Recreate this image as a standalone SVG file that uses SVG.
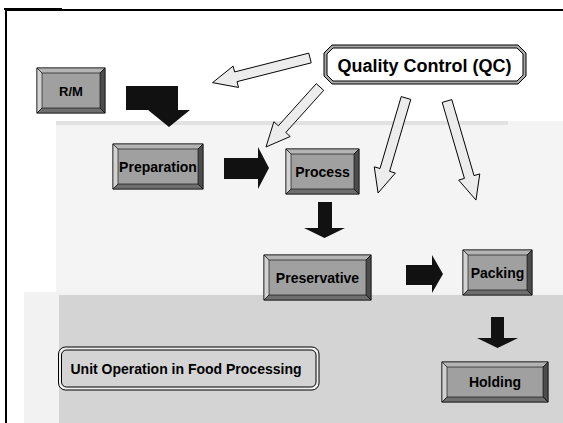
<svg xmlns="http://www.w3.org/2000/svg" width="563" height="423" viewBox="0 0 563 423">
<style>
.t{font-family:"Liberation Sans",Arial,sans-serif;font-weight:bold;font-size:14px;fill:#000;text-anchor:middle}
.face{fill:#a0a0a0;stroke:#000;stroke-width:0.8}
.bt{fill:#b4b4b4;stroke:#000;stroke-width:0.6}
.bl{fill:#d2d2d2;stroke:#000;stroke-width:0.6}
.br{fill:#4c4c4c;stroke:#000;stroke-width:0.6}
.bb{fill:#6e6e6e;stroke:#000;stroke-width:0.6}
.blk{fill:#111}
.wa{fill:#ececec;stroke:#000;stroke-width:0.9}
</style>
<rect width="563" height="423" fill="#fff"/>
<g id="background">
<rect x="56" y="121" width="507" height="175" fill="#f4f4f4"/>
<rect x="56" y="121" width="452" height="4" fill="#e2e2e2"/>
<rect x="24" y="292" width="539" height="131" fill="#f2f2f2"/>
<rect x="59" y="295" width="504" height="128" fill="#d4d4d4"/>
<rect x="6" y="10" width="600" height="450" fill="none" stroke="#000" stroke-width="2"/>
<rect x="4" y="8" width="58" height="2" fill="#000"/>
</g>
<g id="connectors">
<polygon class="blk" points="126,86 178,86 178,110 190,110 169,127 148,110 126,110"/>
<polygon class="blk" points="224,158 258,158 258,147 269,168 258,189 258,179 224,179"/>
<polygon class="blk" points="318,202 332,202 332,228 345,228 324.5,238 304,228 318,228"/>
<polygon class="blk" points="406,265 432,265 432,255 443,274 432,293 432,285 406,285"/>
<polygon class="blk" points="491,317 504,317 504,338 518,338 497.5,348 477,338 491,338"/>
<polygon class="wa" transform="translate(310,58) rotate(165.8)" points="0,-5 76.5,-5 76.5,-11 100.5,0 76.5,11 76.5,5 0,5"/>
<polygon class="wa" transform="translate(320,87) rotate(132)" points="0,-5 56.7,-5 56.7,-11 80.7,0 56.7,11 56.7,5 0,5"/>
<polygon class="wa" transform="translate(406,98) rotate(106.4)" points="0,-5 75,-5 75,-11 99,0 75,11 75,5 0,5"/>
<polygon class="wa" transform="translate(447,101) rotate(73.7)" points="0,-5 79.2,-5 79.2,-11 103.2,0 79.2,11 79.2,5 0,5"/>
</g>
<g id="qc">
<polygon points="332,45 518,45 526,53 526,76 518,84 332,84 324,76 324,53" fill="#a8a8a8" stroke="#000" stroke-width="1"/>
<polygon points="333,48 517,48 523,54 523,75 517,81 333,81 327,75 327,54" fill="#fff" stroke="#000" stroke-width="1"/>
<text class="t" x="424.5" y="72" style="font-size:18px">Quality Control (QC)</text>
</g>
<g id="rm">
<rect class="face" x="37" y="68" width="68" height="45"/>
<polygon class="bt" points="37,68 105,68 100,73 42,73"/>
<polygon class="bl" points="37,68 42,73 42,108 37,113"/>
<polygon class="br" points="105,68 105,113 100,108 100,73"/>
<polygon class="bb" points="37,113 42,108 100,108 105,113"/>
<text class="t" x="71" y="96" style="font-size:13px">R/M</text>
</g>
<g id="preparation">
<rect class="face" x="113" y="144" width="90" height="45"/>
<polygon class="bt" points="113,144 203,144 198,149 118,149"/>
<polygon class="bl" points="113,144 118,149 118,184 113,189"/>
<polygon class="br" points="203,144 203,189 198,184 198,149"/>
<polygon class="bb" points="113,189 118,184 198,184 203,189"/>
<text class="t" x="158" y="172">Preparation</text>
</g>
<g id="process">
<rect class="face" x="286" y="149" width="73" height="45"/>
<polygon class="bt" points="286,149 359,149 354,154 291,154"/>
<polygon class="bl" points="286,149 291,154 291,189 286,194"/>
<polygon class="br" points="359,149 359,194 354,189 354,154"/>
<polygon class="bb" points="286,194 291,189 354,189 359,194"/>
<text class="t" x="322.5" y="177">Process</text>
</g>
<g id="preservative">
<rect class="face" x="264" y="255" width="107" height="45"/>
<polygon class="bt" points="264,255 371,255 366,260 269,260"/>
<polygon class="bl" points="264,255 269,260 269,295 264,300"/>
<polygon class="br" points="371,255 371,300 366,295 366,260"/>
<polygon class="bb" points="264,300 269,295 366,295 371,300"/>
<text class="t" x="317.5" y="283">Preservative</text>
</g>
<g id="packing">
<rect class="face" x="463" y="250" width="69" height="45"/>
<polygon class="bt" points="463,250 532,250 527,255 468,255"/>
<polygon class="bl" points="463,250 468,255 468,290 463,295"/>
<polygon class="br" points="532,250 532,295 527,290 527,255"/>
<polygon class="bb" points="463,295 468,290 527,290 532,295"/>
<text class="t" x="497.5" y="278">Packing</text>
</g>
<g id="holding">
<rect class="face" x="442" y="362" width="106" height="40"/>
<polygon class="bt" points="442,362 548,362 543,367 447,367"/>
<polygon class="bl" points="442,362 447,367 447,397 442,402"/>
<polygon class="br" points="548,362 548,402 543,397 543,367"/>
<polygon class="bb" points="442,402 447,397 543,397 548,402"/>
<text class="t" x="495" y="387">Holding</text>
</g>
<g id="unit-operation">
<rect x="58.5" y="347" width="260.5" height="43" rx="7" fill="#efefef" stroke="#000" stroke-width="1"/>
<rect x="61.5" y="350" width="254.5" height="37" rx="5" fill="#d4d4d4" stroke="#000" stroke-width="1"/>
<text class="t" x="186" y="374">Unit Operation in Food Processing</text>
</g>
</svg>
